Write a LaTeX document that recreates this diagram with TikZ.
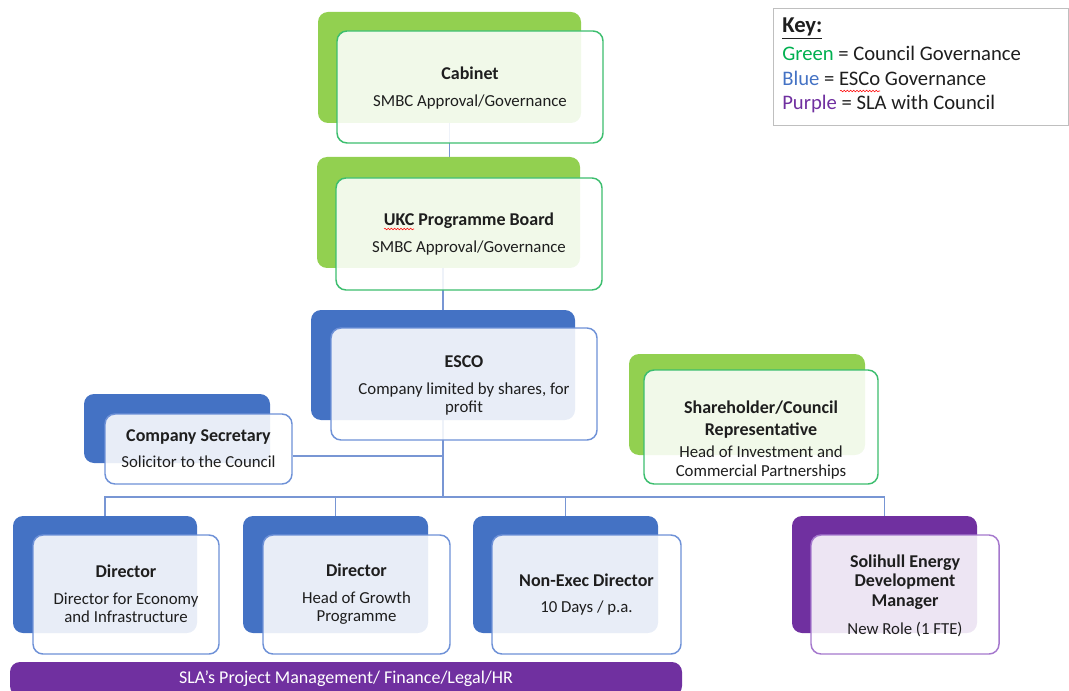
\documentclass[tikz,border=0pt]{standalone}
\usepackage{fontspec}
\setmainfont{Carlito}
\usetikzlibrary{fit,calc,decorations.pathmorphing}
\definecolor{gback}{RGB}{146,208,80}
\definecolor{gline}{RGB}{60,190,110}
\definecolor{bback}{RGB}{68,114,196}
\definecolor{bline}{RGB}{110,145,215}
\definecolor{pback}{RGB}{112,48,160}
\definecolor{pline}{RGB}{165,120,205}
\definecolor{conn}{RGB}{120,150,212}
\definecolor{txt}{RGB}{30,30,30}
\definecolor{keygreen}{RGB}{0,176,80}
\definecolor{keyblue}{RGB}{68,114,196}
\definecolor{keypurple}{RGB}{112,48,160}
\definecolor{keyborder}{RGB}{191,191,191}
\pgfdeclarelayer{bg}
\pgfsetlayers{bg,main}
\newcommand{\ttl}[1]{{\fontsize{13.5pt}{13.5pt}\selectfont\bfseries #1}}
\tikzset{
  backbox/.style={rounded corners=7.5pt, inner sep=0pt, draw=none},
  frontbox/.style={rounded corners=7.5pt, inner sep=0pt, line width=1.1pt, fill=white,
    fill opacity=0.88},
  boxtext/.style={align=center, inner sep=0pt, font=\fontsize{12.6pt}{13.5pt}\selectfont, text=txt},
  connector/.style={draw=conn, line width=1.1pt},
  keytext/.style={anchor=base west, inner sep=0pt, font=\fontsize{15.5pt}{18pt}\selectfont, text=txt},
  squiggle/.style={draw=red, line width=0.4pt, decorate, decoration={snake, amplitude=0.6pt, segment length=2.4pt}}
}
\begin{document}
\begin{tikzpicture}[x=0.75pt,y=-0.75pt]
\useasboundingbox (0,0) rectangle (1069,691);
% Cabinet
\node[backbox, fill=gback, fit={(318,12)(581,123)}] (cabB) {};
\node[frontbox, draw=gline, fit={(337,31)(603,143)}] (cabF) {};
\node[boxtext] (cabT) at ($(cabF.center)+(0,1)$) {\ttl{Cabinet}\\[6.75pt]SMBC Approval/Governance};
% UKC
\node[backbox, fill=gback, fit={(317,157)(580,268)}] (ukcB) {};
\node[frontbox, draw=gline, fit={(336,178)(602,290)}] (ukcF) {};
\node[boxtext] (ukcT) at ($(ukcF.center)+(0,0.5)$) {\ttl{UKC Programme Board}\\[6.75pt]SMBC Approval/Governance};
% ESCO
\node[backbox, fill=bback, fit={(311,310)(575,420)}] (escoB) {};
\node[frontbox, draw=bline, fit={(331,328)(597,440)}] (escoF) {};
\node[boxtext] (escoT) at ($(escoF.center)+(0,1)$) {\ttl{ESCO}\\[6.75pt]Company limited by shares, for\\profit};
% Company Secretary
\node[backbox, fill=bback, fit={(84,394)(270,463)}] (csB) {};
\node[frontbox, draw=bline, fit={(105,414)(292,484)}] (csF) {};
\node[boxtext] (csT) at (csF.center) {\ttl{Company Secretary}\\[6pt]Solicitor to the Council};
% Shareholder
\node[backbox, fill=gback, fit={(629,354)(865,455)}] (shB) {};
\node[frontbox, draw=gline, fit={(644,370)(878,484)}] (shF) {};
\node[boxtext] (shT) at ($(shF.center)+(0,13)$) {\ttl{Shareholder/Council}\\[3pt]\ttl{Representative}\\[3pt]Head of Investment and\\[0.75pt]Commercial Partnerships};
% Directors
\node[backbox, fill=bback, fit={(13,516)(197,633)}] (d1B) {};
\node[frontbox, draw=bline, fit={(33,535)(219,654)}] (d1F) {};
\node[boxtext] (d1T) at ($(d1F.center)+(0,-0.5)$) {\ttl{Director}\\[6.75pt]Director for Economy\\and Infrastructure};
\node[backbox, fill=bback, fit={(243,516)(428,633)}] (d2B) {};
\node[frontbox, draw=bline, fit={(263,535)(450,654)}] (d2F) {};
\node[boxtext] (d2T) at ($(d2F.center)+(0,-0.5)$) {\ttl{Director}\\[6.75pt]Head of Growth\\Programme};
\node[backbox, fill=bback, fit={(473,516)(658,633)}] (nedB) {};
\node[frontbox, draw=bline, fit={(492,535)(681,654)}] (nedF) {};
\node[boxtext] (nedT) at (nedF.center) {\ttl{Non-Exec Director}\\[6pt]10 Days / p.a.};
\node[backbox, fill=pback, fit={(792,516)(977,633)}] (semB) {};
\node[frontbox, draw=pline, fit={(811,535)(999,654)}] (semF) {};
\node[boxtext] (semT) at ($(semF.center)+(0,1)$) {\ttl{Solihull Energy}\\[1.1pt]\ttl{Development}\\[1.1pt]\ttl{Manager}\\[7.5pt]New Role (1 FTE)};
% SLA bar
\node[backbox, fill=pback, fit={(10,662)(682,696)}] (sla) {};
\node[boxtext, text=white, font=\fontsize{13.5pt}{14pt}\selectfont] (slaT) at (sla.center) {SLA’s Project Management/ Finance/Legal/HR};
% Key
\node[draw=keyborder, line width=0.75pt, inner sep=0pt, fit={(773,9)(1068,126)}] (key) {};
\node[keytext, font=\fontsize{17pt}{18pt}\selectfont] (k0) at (782,33) {\bfseries\underline{Key:}};
\node[keytext] (k1) at (782,61) {\textcolor{keygreen}{Green} = Council Governance};
\node[keytext] (k2) at (782,86) {\textcolor{keyblue}{Blue} = ESCo Governance};
\node[keytext] (k3) at (782,110) {\textcolor{keypurple}{Purple} = SLA with Council};
\draw[squiggle] (840,91) -- (880,91);
\draw[squiggle] (384,229) -- (414,229);
% connectors
\coordinate (bus) at (443,497);
\coordinate (csj) at ($(csF.east)+(0,7)$);
\begin{pgfonlayer}{bg}
\draw[connector] (cabB.south) -- (cabB.south |- ukcB.north);
\draw[connector] (ukcB.south -| escoB.north) -- (escoB.north);
\draw[connector] (escoB.south) -- (bus);
\draw[connector] (csj) -- (csj -| bus);
\draw[connector] (d1B.north) |- (bus) -| (semB.north);
\draw[connector] (d2B.north) -- (d2B.north |- bus);
\draw[connector] (nedB.north) -- (nedB.north |- bus);
\end{pgfonlayer}
\end{tikzpicture}
\end{document}
